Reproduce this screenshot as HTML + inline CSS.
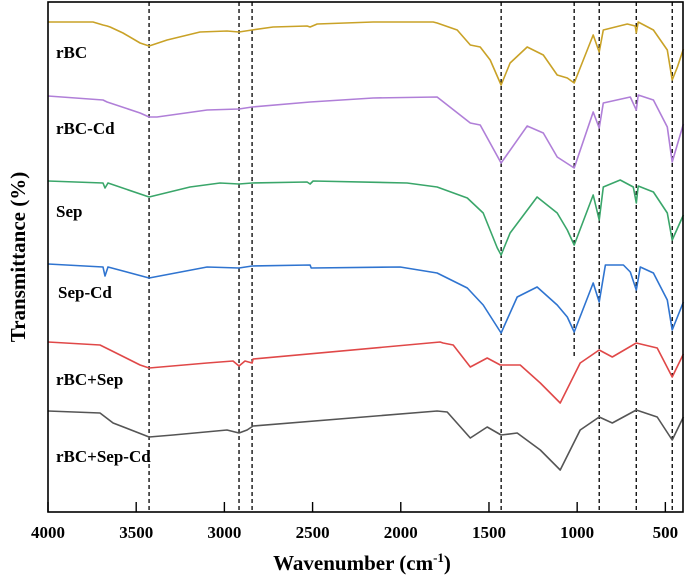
<!DOCTYPE html>
<html><head><meta charset="utf-8"><style>
html,body{margin:0;padding:0;background:#fff;}
svg{display:block;font-family:"Liberation Serif",serif;}
</style></head><body>
<svg id="chart" width="685" height="578" viewBox="0 0 685 578"></svg>
<script>
// ---- data (wavenumber cm-1, transmittance in arbitrary offset units) ----
const xTicks = [4000,3500,3000,2500,2000,1500,1000,500];
const peakLines = [3427,2917,2843,1431,1017,875,665,461];
const seriesNames = ["rBC","rBC-Cd","Sep","Sep-Cd","rBC+Sep","rBC+Sep-Cd"];
const seriesColors = ["#c9a227","#b07fd8","#3aa66a","#2f74d0","#e04848","#555555"];
const wnRBC = [4000,3745,3688,3665,3648,3575,3478,3427,3325,3138,2985,2917,2843,2724,2531,2514,2474,2157,1816,1794,1680,1606,1550,1493,1431,1380,1283,1192,1113,1056,1017,965,909,875,852,716,671,665,654,568,489,461,432,398];
const tRBC  = [490,490,487,486,485,479,469,466,472,480,481,480,482,485,486,485,488,490,490,489,482,467,465,452,427,449,465,457,437,434,429,452,477,460,482,488,486,479,490,482,462,432,445,463];
const wnRBCCd = [4000,3688,3665,3478,3427,3382,3098,2917,2843,2514,2157,1794,1606,1550,1431,1283,1192,1113,1017,909,875,852,699,665,654,568,489,461,398];
const tRBCCd  = [416,412,410,399,395,395,402,403,405,410,414,415,389,387,349,386,379,355,344,400,384,409,415,402,417,412,385,350,388];
const wnSep = [4000,3688,3677,3660,3427,3195,3025,2917,2843,2531,2514,2497,1964,1794,1623,1533,1453,1431,1380,1227,1113,1056,1017,909,875,852,756,682,665,654,568,489,461,398];
const tSep  = [331,329,324,329,315,325,329,328,329,330,328,331,329,325,314,299,264,257,279,315,299,282,267,317,292,325,332,325,309,326,320,299,272,297];
const wnSepCd = [4000,3688,3677,3660,3427,3098,2917,2843,2514,2508,2003,1794,1623,1533,1431,1340,1227,1113,1056,1017,909,875,840,738,699,665,642,568,489,461,398];
const tSepCd  = [248,245,236,245,234,245,244,246,247,244,245,239,224,207,179,215,225,207,195,180,229,210,247,247,240,222,245,239,212,182,210];
const wnMix = [4000,3705,3648,3478,3427,3098,2951,2917,2883,2843,2837,1777,1760,1703,1606,1510,1436,1323,1209,1096,983,875,801,665,546,461,398];
const tMix  = [170,167,162,147,144,149,151,146,151,149,153,170,169,167,145,154,147,147,129,109,149,162,155,169,164,135,158];
const wnMixCd = [4000,3705,3631,3427,3291,2985,2917,2871,2837,1794,1737,1606,1510,1431,1340,1209,1096,983,875,801,665,546,461,398];
const tMixCd  = [101,99,89,75,77,82,79,82,86,101,100,74,85,77,79,62,42,82,95,89,102,95,72,95];

const allWn = [wnRBC,wnRBCCd,wnSep,wnSepCd,wnMix,wnMixCd];
const allT = [tRBC,tRBCCd,tSep,tSepCd,tMix,tMixCd];

// ---- layout ----
const L=48,R=683,T=2,B=512;
const xMin=4000,xMax=400,yMin=0,yMax=510;
const xs = w => L + (xMin-w)/(xMin-xMax)*(R-L);
const ys = v => B - (v-yMin)/(yMax-yMin)*(B-T);
const NS="http://www.w3.org/2000/svg";
const svg=document.getElementById('chart');
function mk(tag,attrs,parent){const e=document.createElementNS(NS,tag);for(const k in attrs)e.setAttribute(k,attrs[k]);(parent||svg).appendChild(e);return e;}

// dashed peak lines
const gPk=mk('g',{});


peakLines.forEach(w=>{
  const y2 = (w===1017)? 357 : B;
  const ln=mk('line',{x1:xs(w),x2:xs(w),y1:T,y2:y2,stroke:'#000','stroke-width':1.3,'stroke-dasharray':'4,3'},gPk);
  
  
});

// series
seriesNames.forEach((n,i)=>{
  const wn=allWn[i],tv=allT[i];
  const d=wn.map((w,j)=>(j?'L':'M')+xs(w).toFixed(1)+','+ys(tv[j]).toFixed(1)).join(' ');
  const p=mk('path',{d:d,fill:'none',stroke:seriesColors[i],'stroke-width':1.6,'stroke-linejoin':'round'});
  
  
});

// frame
const fr=mk('rect',{x:L,y:T,width:R-L,height:B-T,fill:'none',stroke:'#000','stroke-width':1.6});



// ticks + labels
xTicks.forEach(w=>{
  const tk=mk('line',{x1:xs(w),x2:xs(w),y1:B,y2:B-10,stroke:'#000','stroke-width':1.4});
  
  
  const tx=mk('text',{x:xs(w),y:538,'text-anchor':'middle','font-size':17,'font-weight':'bold'});
  tx.textContent=w;
  
  
});

// series labels
const labelPos=[[56,58],[56,134],[56,217],[58,298],[56,385],[56,462]];
seriesNames.forEach((n,i)=>{
  const tx=mk('text',{x:labelPos[i][0],y:labelPos[i][1],'font-size':17,'font-weight':'bold'});
  tx.textContent=n;
  
  
});

// axis titles
const xt=mk('text',{x:362,y:570,'text-anchor':'middle','font-size':21,'font-weight':'bold'});
xt.innerHTML='Wavenumber (cm<tspan dy="-8" font-size="13">-1</tspan><tspan dy="8">)</tspan>';


const yt=mk('text',{x:0,y:0,'text-anchor':'middle','font-size':21,'font-weight':'bold',transform:'translate(25,257) rotate(-90)'});
yt.textContent='Transmittance (%)';


</script>
</body></html>
